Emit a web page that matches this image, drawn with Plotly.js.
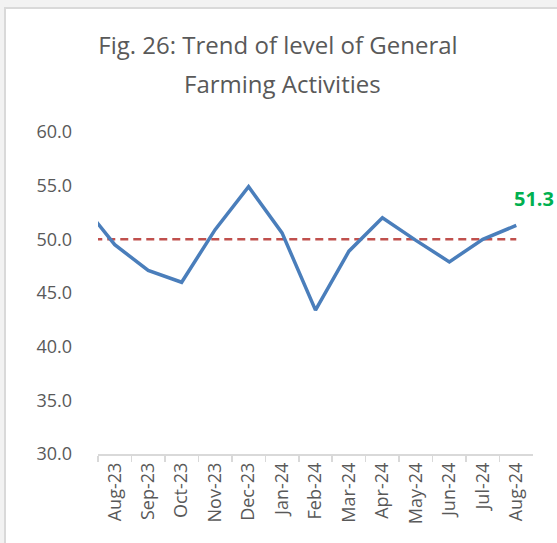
<!DOCTYPE html>
<html>
<head>
<meta charset="utf-8">
<script src="https://cdn.plot.ly/plotly-3.0.1.min.js"></script>
<style>
  html, body { margin: 0; padding: 0; background: #f2f2f2; width: 557px; height: 543px; overflow: hidden; }
  #wrap { position: absolute; left: 4px; top: 7px; border-left: 2px solid #d9d9d9; border-top: 2px solid #d9d9d9; background: #ffffff; }
  #chart { width: 551px; height: 534px; }
</style>
</head>
<body>
<div id="wrap"><div id="chart"></div></div>
<script>
// Categories (Jul-23 lies just left of the visible range and is clipped, as in the reference)
const months = ['Jul-23','Aug-23','Sep-23','Oct-23','Nov-23','Dec-23','Jan-24','Feb-24','Mar-24','Apr-24','May-24','Jun-24','Jul-24','Aug-24'];
// Level of General Farming Activities
const levels = [53.4, 49.5, 47.1, 46.0, 50.9, 54.9, 50.6, 43.4, 48.9, 52.0, 49.9, 47.9, 50.0, 51.3];
// Neutral benchmark line
const benchmark = [50, 50, 50, 50, 50, 50, 50, 50, 50, 50, 50, 50, 50, 50];
// Chart title lines
const titleLines = ['Fig. 26: Trend of level of General', 'Farming Activities'];

const FONT = '"Open Sans", "Noto Sans", sans-serif';
const GREY = '#595959';

const traces = [
  {
    x: months, y: benchmark, type: 'scatter', mode: 'lines',
    line: { color: '#c0504d', width: 2.5, dash: '8px,5px' },
    hoverinfo: 'skip', showlegend: false
  },
  {
    x: months, y: levels, type: 'scatter', mode: 'lines',
    line: { color: '#4a7ebb', width: 3.5 },
    showlegend: false
  }
];

const lastIdx = levels.length - 1;

const layout = {
  width: 551, height: 534,
  paper_bgcolor: '#ffffff', plot_bgcolor: '#ffffff',
  margin: { l: 66, r: 24, t: 123, b: 89 },
  font: { family: FONT, color: GREY },
  title: {
    text: titleLines[0],
    font: { family: FONT, size: 24, color: GREY },
    x: 0.4936, xanchor: 'center', xref: 'container',
    y: 0.9307, yanchor: 'middle', yref: 'container'
  },
  xaxis: {
    type: 'category',
    domain: [0.0564, 1],
    range: [0.5, 13.5],
    tickson: 'boundaries',
    ticks: 'outside', ticklen: 6, tickcolor: '#d9d9d9', tickwidth: 1.5,
    showline: true, linecolor: '#d9d9d9', linewidth: 1.5,
    showgrid: false, zeroline: false,
    tickangle: -90,
    tickfont: { family: FONT, size: 18, color: GREY },
    fixedrange: true
  },
  yaxis: {
    anchor: 'free', position: 0,
    range: [30, 60],
    dtick: 5, tick0: 30,
    tickformat: '.1f',
    showline: false, showgrid: false, zeroline: false,
    ticks: '',
    tickfont: { family: FONT, size: 18, color: GREY },
    fixedrange: true
  },
  annotations: [
    {
      text: titleLines[1],
      xref: 'paper', yref: 'paper',
      x: 0.4577, y: 1 + 48 / 322,
      xanchor: 'center', yanchor: 'middle',
      showarrow: false,
      font: { family: FONT, size: 24, color: GREY }
    },
    {
      x: months[lastIdx], y: levels[lastIdx], xref: 'x', yref: 'y',
      text: levels[lastIdx].toFixed(1),
      showarrow: false,
      xshift: 18, yshift: 27,
      font: { family: FONT, size: 20, color: '#00b050', weight: 700 }
    }
  ]
};

Plotly.newPlot('chart', traces, layout, { displayModeBar: false, staticPlot: true });
</script>
</body>
</html>
